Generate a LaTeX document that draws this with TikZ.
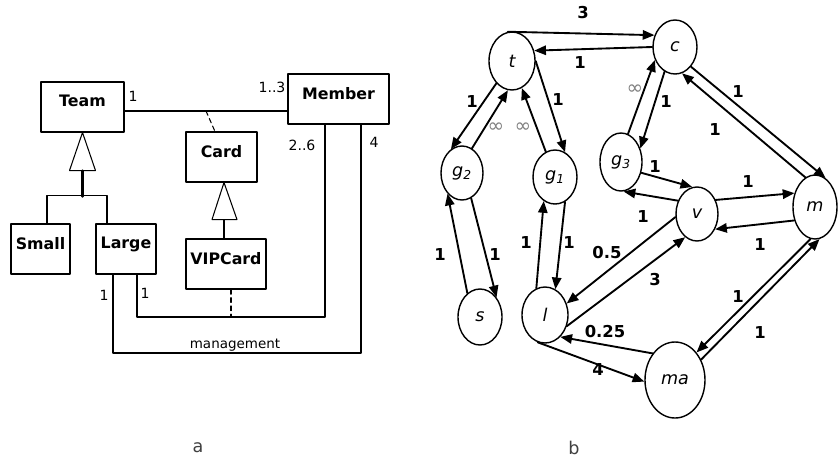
\documentclass[tikz,border=0pt]{standalone}
\usepackage{fontspec}
\setmainfont{DejaVu Sans}
\usepackage{tikz}
\usetikzlibrary{arrows.meta,shapes.geometric}

\tikzset{
  cls/.style={draw,line width=0.9pt,inner sep=0pt,text depth=10pt,minimum height=1.5cm,font=\fontsize{13.5}{15}\selectfont\bfseries},
  mult/.style={font=\fontsize{12}{14}\selectfont},
  gen/.style={draw,line width=0.9pt,fill=white},
  vert/.style={ellipse,draw,line width=1.2pt,inner sep=0pt,font=\fontsize{15}{17}\selectfont\itshape},
  edge/.style={->,line width=1.6pt},
  wt/.style={font=\fontsize{14}{16}\selectfont\bfseries},
  inf/.style={text=black!50,font=\fontsize{17}{18}\selectfont}
}

\begin{document}
\begin{tikzpicture}[line cap=round,line join=round,>={Triangle[length=10pt,width=8pt]},x=0.03cm,y=-0.03cm]
	\useasboundingbox (0,0) rectangle (838,463);
	% class diagram
	\node[cls,minimum width=2.49cm] (team) at (82.5,107) {Team};
	\node[cls,minimum width=3.03cm] (member) at (338.5,99) {Member};
	\node[cls,minimum width=2.13cm] (card) at (221.5,157) {Card};
	\node[cls,minimum width=1.77cm] (small) at (40.5,249) {Small};
	\node[cls,minimum width=1.8cm] (large) at (126,249) {Large};
	\node[cls,minimum width=2.4cm] (vipcard) at (226,264) {VIPCard};
	\draw [line width=0.9pt] (team.east) ++(0,4) coordinate (tmA) -- (tmA -| member.west);
	\coordinate (cardlink) at (206,111);
	\draw [line width=0.9pt,dash pattern=on 4pt off 3pt] (cardlink) -- (card.north -| 215,0);
	\draw [gen] (team.south) -- ++(-13,38) -- ++(26,0) -- cycle;
	\draw [line width=2pt] (team.south) ++(0,38) -- ++(0,26);
	\draw [line width=0.9pt] (small.north -| 47,0) -- ++(0,-28) -| (large.north -| 107,0);
	\draw [gen] (card.south -| 224,0) -- ++(-12,37) -- ++(25,0) -- cycle;
	\draw [line width=0.9pt] (card.south -| 224,0) ++(0,37) -- (vipcard.north -| 224,0);
	\coordinate (vipjoin) at (231,317);
	\draw [line width=0.9pt,dash pattern=on 4pt off 3pt] (vipcard.south -| 231,0) -- (vipjoin);
	\draw [line width=0.9pt] (large.south -| 137,0) -- (137,317) -| (member.south -| 325,0);
	\draw [line width=0.9pt] (large.south -| 113,0) -- (113,353) -| (member.south -| 361,0);
	\node[mult] (mTeam) at (133,96) {1};
	\node[mult] (mMemA) at (272,87) {1..3};
	\node[mult] (mMemB) at (302,145) {2..6};
	\node[mult] (mMemC) at (374,142) {4};
	\node[mult] (mLrgA) at (104,295) {1};
	\node[mult] (mLrgB) at (145,293) {1};
	\node[font=\fontsize{11.5}{13}\selectfont] (mgmt) at (235,345) {management};
	\node[font=\fontsize{15}{17}\selectfont,text=black!75] (capA) at (198,448) {a};
	% flow graph
	\node[vert,minimum width=1.38cm,minimum height=1.74cm] (t) at (512,61) {t};
	\node[vert,minimum width=1.32cm,minimum height=1.62cm] (c) at (675,47) {c};
	\node[vert,minimum width=1.26cm,minimum height=1.62cm] (g2) at (462,173) {g\textsubscript{2}};
	\node[vert,minimum width=1.32cm,minimum height=1.62cm] (g1) at (555,177) {g\textsubscript{1}};
	\node[vert,minimum width=1.26cm,minimum height=1.74cm] (g3) at (621,162) {g\textsubscript{3}};
	\node[vert,minimum width=1.26cm,minimum height=1.62cm] (v) at (697,214) {v};
	\node[vert,minimum width=1.32cm,minimum height=1.92cm] (m) at (815,207) {m};
	\node[vert,minimum width=1.32cm,minimum height=1.68cm] (s) at (480,317) {s};
	\node[vert,minimum width=1.38cm,minimum height=1.68cm] (l) at (545,315) {l};
	\node[vert,minimum width=1.8cm,minimum height=2.28cm] (ma) at (675,380) {ma};
	\draw [edge] (t.98) -- (c.150);
	\draw [edge] (c.180) -- (t.25);
	\draw [edge] (t.235) -- (g2.115);
	\draw [edge] (g2.68) -- (t.262);
	\draw [edge] (g1.110) -- (t.290);
	\draw [edge] (t.0) -- (g1.68);
	\draw [edge] (g3.76) -- (c.213);
	\draw [edge] (c.247) -- (g3.35);
	\draw [edge] (c.309) -- (m.70);
	\draw [edge] (m.108) -- (c.285);
	\draw [edge] (g3.332) -- (v.100);
	\draw [edge] (v.145) -- (g3.275);
	\draw [edge] (v.37) -- (m.146);
	\draw [edge] (m.213) -- (v.320);
	\draw [edge] (s.118) -- (g2.235);
	\draw [edge] (g2.290) -- (s.50);
	\draw [edge] (l.108) -- (g1.245);
	\draw [edge] (g1.292) -- (l.68);
	\draw [edge] (v.188) -- (l.28);
	\draw [edge] (l.333) -- (v.243);
	\draw [edge] (ma.130) -- (l.305);
	\draw [edge] (l.255) -- (ma.183);
	\draw [edge] (m.262) -- (ma.52);
	\draw [edge] (ma.38) -- (m.278);
	\node[wt] (wTC) at (583,13) {3};
	\node[wt] (wCT) at (580,63) {1};
	\node[wt] (wTG2) at (472,102) {1};
	\node[inf] (iG2T) at (496,128) {∞};
	\node[inf] (iG1T) at (523,128) {∞};
	\node[wt] (wTG1) at (558,100) {1};
	\node[inf] (iG3C) at (635,90) {∞};
	\node[wt] (wCG3) at (666,102) {1};
	\node[wt] (wCM) at (738,92) {1};
	\node[wt] (wMC) at (715,130) {1};
	\node[wt] (wG3V) at (655,167) {1};
	\node[wt] (wVM) at (748,182) {1};
	\node[wt] (wVG3) at (643,217) {1};
	\node[wt] (wMV) at (760,245) {1};
	\node[wt] (wSG2) at (440,255) {1};
	\node[wt] (wG2S) at (495,255) {1};
	\node[wt] (wLG1) at (526,243) {1};
	\node[wt] (wG1L) at (569,243) {1};
	\node[wt] (wVL) at (607,253) {0.5};
	\node[wt] (wLV) at (655,280) {3};
	\node[wt] (wMMa) at (738,297) {1};
	\node[wt] (wMaM) at (760,333) {1};
	\node[wt] (wMaL) at (605,332) {0.25};
	\node[wt] (wLMa) at (598,370) {4};
	\node[font=\fontsize{15}{17}\selectfont,text=black!75] (capB) at (574,448) {b};
\end{tikzpicture}
\end{document}
